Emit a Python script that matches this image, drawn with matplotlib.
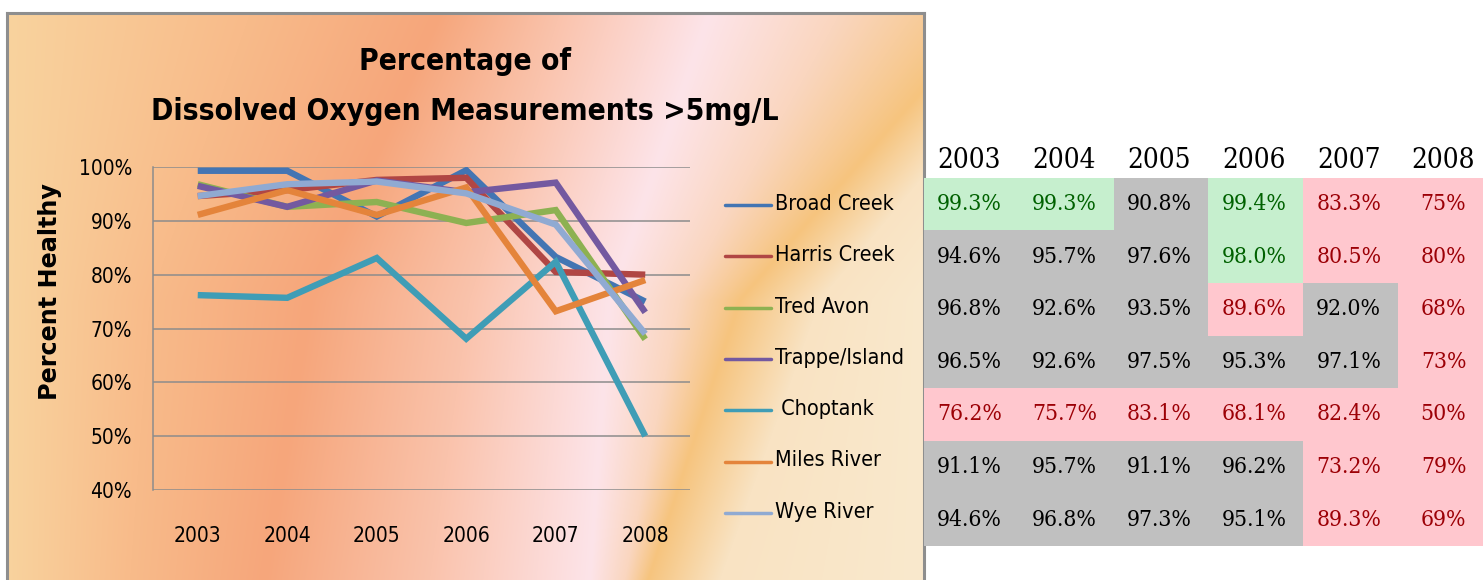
import numpy as np
import matplotlib
matplotlib.use("Agg")
import matplotlib.pyplot as plt
from matplotlib.patches import Rectangle
from matplotlib.lines import Line2D
from matplotlib.colors import to_rgb

# ---------------- data ----------------
years = ["2003", "2004", "2005", "2006", "2007", "2008"]
sites = ["Broad Creek", "Harris Creek", "Tred Avon", "Trappe/Island",
         " Choptank", "Miles River", "Wye River"]
broad_creek = [99.3, 99.3, 90.8, 99.4, 83.3, 75]
harris_creek = [94.6, 95.7, 97.6, 98.0, 80.5, 80]
tred_avon = [96.8, 92.6, 93.5, 89.6, 92.0, 68]
trappe_island = [96.5, 92.6, 97.5, 95.3, 97.1, 73]
choptank = [76.2, 75.7, 83.1, 68.1, 82.4, 50]
miles_river = [91.1, 95.7, 91.1, 96.2, 73.2, 79]
wye_river = [94.6, 96.8, 97.3, 95.1, 89.3, 69]
series = [broad_creek, harris_creek, tred_avon, trappe_island,
          choptank, miles_river, wye_river]
table_labels = [["99.3%", "99.3%", "90.8%", "99.4%", "83.3%", "75%"],
                ["94.6%", "95.7%", "97.6%", "98.0%", "80.5%", "80%"],
                ["96.8%", "92.6%", "93.5%", "89.6%", "92.0%", "68%"],
                ["96.5%", "92.6%", "97.5%", "95.3%", "97.1%", "73%"],
                ["76.2%", "75.7%", "83.1%", "68.1%", "82.4%", "50%"],
                ["91.1%", "95.7%", "91.1%", "96.2%", "73.2%", "79%"],
                ["94.6%", "96.8%", "97.3%", "95.1%", "89.3%", "69%"]]
# cell status: G = good, N = neutral, R = bad
cell_status = ["GGNGRR", "NNNGRR", "NNNRNR", "NNNNNR", "RRRRRR", "NNNNRR", "NNNNRR"]
y_ticks = [40, 50, 60, 70, 80, 90, 100]

# ---------------- style ----------------
line_colors = ["#4375B3", "#B04644", "#8DB152", "#7359A0", "#3F9DB6", "#E4843B", "#90AAD2"]
fill = {"G": "#C6EFCE", "N": "#C0C0C0", "R": "#FFC7CE"}
txtc = {"G": "#006100", "N": "#000000", "R": "#9C0006"}
narrow = dict(family="DejaVu Sans", stretch="condensed")
serif = dict(family="DejaVu Serif", stretch="condensed")

W, H = 1483, 580
fig = plt.figure(figsize=(W / 100, H / 100), dpi=100)
fig.patch.set_facecolor("white")

def fx(px):
    return px / W

def fy(py):
    return 1 - py / H

# ---------------- chart panel background (diagonal colour bands) ----------------
px0, px1, py0, py1 = 7, 924, 13, 580
bg = fig.add_axes([fx(px0), fy(py1), fx(px1 - px0), fy(py0) - fy(py1)], zorder=0)
xs = np.arange(px0, px1) + 0.5
ys = np.arange(py0, py1) + 0.5
band_cols = np.array([to_rgb(c) for c in
                      ["#F9D39E", "#F8BB8A", "#F6A67B", "#FAC3AC", "#FDE4E9",
                       "#FAD6BF", "#F6C47E", "#F9E3C3", "#FAE9CD"]])
band_rows = [13, 300, 580]
band_pos = np.array([[7, 250, 440, 560, 710, 840, 990, 1060, 1120],
                     [7, 150, 310, 470, 610, 680, 740, 820, 924],
                     [7, 130, 265, 430, 590, 625, 648, 720, 924]], dtype=float)
img = np.zeros((len(ys), len(xs), 3))
for i, yv in enumerate(ys):
    pos = np.array([np.interp(yv, band_rows, band_pos[:, k]) for k in range(band_pos.shape[1])])
    for c in range(3):
        img[i, :, c] = np.interp(xs, pos, band_cols[:, c])
bg.imshow(np.clip(img, 0, 1), aspect="auto", interpolation="bilinear")
bg.set_axis_off()
for seg in [([px0, px0], [py0, py1]), ([px0, px1], [py0, py0]), ([px1, px1], [py0, py1])]:
    fig.add_artist(Line2D([fx(v) for v in seg[0]], [fy(v) for v in seg[1]],
                          color="#8E8E8E", lw=2.2, zorder=1))

# ---------------- line chart ----------------
ax_l, ax_r, ax_t, ax_b = 153, 690, 167, 490
ax = fig.add_axes([fx(ax_l), fy(ax_b), fx(ax_r - ax_l), fy(ax_t) - fy(ax_b)], zorder=2)
ax.set_facecolor("none")
xpos = np.arange(len(years))
for vals, col in zip(series, line_colors):
    ax.plot(xpos, np.array(vals) / 100, color=col, lw=4.6,
            solid_joinstyle="miter", solid_capstyle="butt", zorder=3)
ax.set_xlim(-0.5, len(years) - 0.5)
ax.set_ylim(0.4, 1.0)
ax.set_yticks([t / 100 for t in y_ticks])
ax.set_yticklabels([f"{t}%" for t in y_ticks], fontsize=15, **narrow)
ax.set_xticks(xpos)
ax.set_xticklabels(years, fontsize=15, **narrow)
ax.tick_params(axis="y", length=0, pad=15)
ax.tick_params(axis="x", length=0, pad=26)
ax.grid(axis="y", color="#8C8C8C", lw=1.1)
ax.set_axisbelow(True)
for s in ["top", "right", "bottom"]:
    ax.spines[s].set_visible(False)
ax.spines["left"].set_color("#8C8C8C")
ax.spines["left"].set_linewidth(1.1)

fig.text(fx(50), fy(292), "Percent Healthy", rotation=90, ha="center", va="center",
         fontsize=17.2, fontweight="bold", family="DejaVu Sans")
fig.text(fx(465), fy(62), "Percentage of", ha="center", va="center",
         fontsize=21.5, fontweight="bold", **narrow)
fig.text(fx(465), fy(112), "Dissolved Oxygen Measurements >5mg/L", ha="center",
         va="center", fontsize=21.5, fontweight="bold", **narrow)

# legend
for i, (name, col) in enumerate(zip(sites, line_colors)):
    yy = 205 + 51.3 * i
    fig.add_artist(Line2D([fx(725), fx(771)], [fy(yy), fy(yy)], color=col, lw=2.5,
                          solid_capstyle="round", zorder=3))
    fig.text(fx(775), fy(yy - 1), name, ha="left", va="center", fontsize=15.5, **narrow)

# ---------------- table ----------------
t_left, col_w, t_top, hdr_h, row_h = 924, 94.8, 140, 37.7, 52.6
n_rows = len(table_labels)
t_bottom = t_top + hdr_h + row_h * n_rows
tax = fig.add_axes([fx(t_left), fy(t_bottom), fx(col_w * len(years)), fy(t_top) - fy(t_bottom)],
                   zorder=3)
tax.set_xlim(0, len(years))
tax.set_ylim(n_rows, -hdr_h / row_h)
tax.set_axis_off()
for j, yr in enumerate(years):
    tax.text(j + 0.48, -0.32, yr, ha="center", va="center", fontsize=20,
             color="black", **serif)
for i, (labels, status) in enumerate(zip(table_labels, cell_status)):
    for j, (lab, st) in enumerate(zip(labels, status)):
        tax.add_patch(Rectangle((j, i), 1, 1, facecolor=fill[st], edgecolor="none"))
        tax.text(j + 0.48, i + 0.5, lab, ha="center", va="center", fontsize=16.4,
                 color=txtc[st], **serif)

fig.savefig("out.png", dpi=100)
